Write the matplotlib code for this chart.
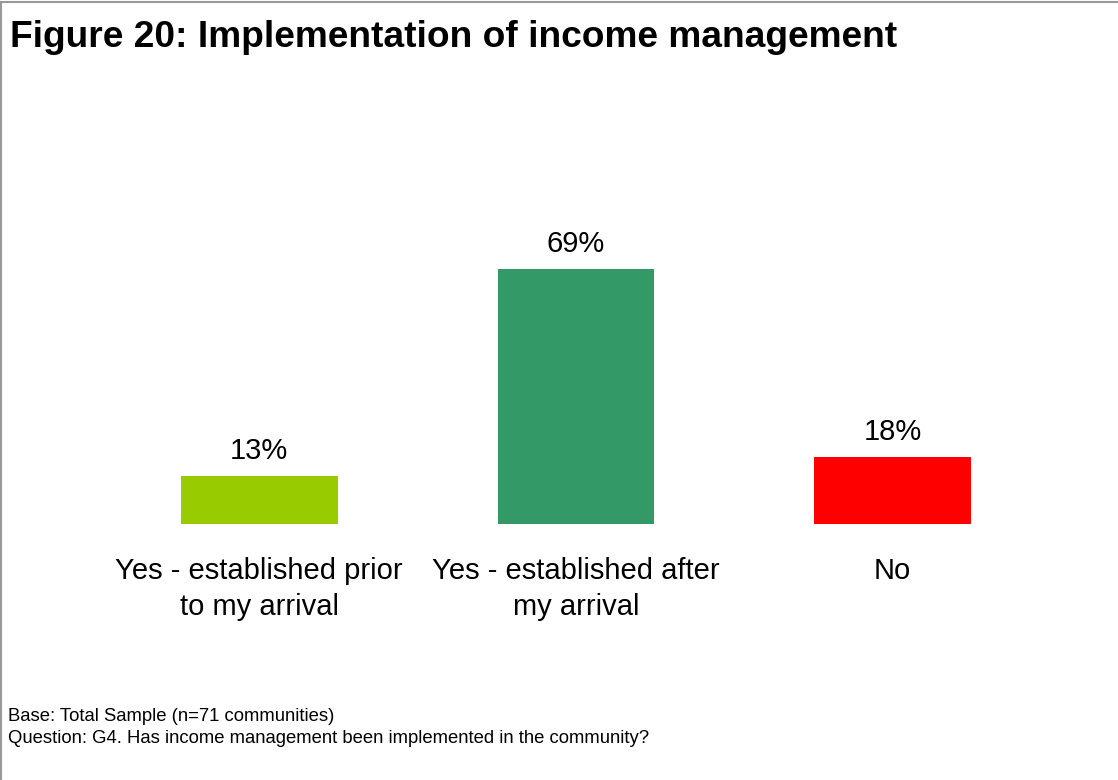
import matplotlib
matplotlib.use('Agg')
import matplotlib.pyplot as plt
from matplotlib.lines import Line2D

plt.rcParams['font.family'] = ['Liberation Sans', 'DejaVu Sans']

categories = ['Yes - established prior\nto my arrival', 'Yes - established after\nmy arrival', 'No']
values = [13, 69, 18]
colors = ['#99CC00', '#339966', '#FF0000']

fig = plt.figure(figsize=(11.18, 7.8), dpi=100)
ax = fig.add_axes([0.0903, 0.3282, 0.8497, 0.379])

x = range(len(categories))
bars = ax.bar(x, values, width=0.495, color=colors)
for b, v in zip(bars, values):
    ax.text(b.get_x() + b.get_width()/2, b.get_height() + 3, f'{v}%', ha='center', va='bottom', fontsize=21)

ax.set_xlim(-0.5, 2.5)
ax.set_ylim(0, 80)
ax.set_xticks(list(x))
ax.set_xticklabels(categories, fontsize=21, linespacing=1.37)
ax.tick_params(axis='x', length=0, pad=24)
ax.set_yticks([])
for s in ax.spines.values():
    s.set_visible(False)

fig.text(0.009, 0.952, 'Figure 20: Implementation of income management', fontsize=26.7, fontweight='bold', va='center')
fig.text(0.007, 0.082, 'Base: Total Sample (n=71 communities)', fontsize=13.3, va='center')
fig.text(0.007, 0.053, 'Question: G4. Has income management been implemented in the community?', fontsize=13.3, va='center')

# thin grey frame on top/left like the source
fig.add_artist(Line2D([0.001, 0.001], [0, 0.997], color='#999999', lw=1.5, transform=fig.transFigure))
fig.add_artist(Line2D([0.001, 1], [0.997, 0.997], color='#999999', lw=1.5, transform=fig.transFigure))

plt.savefig('out.png', dpi=100)
